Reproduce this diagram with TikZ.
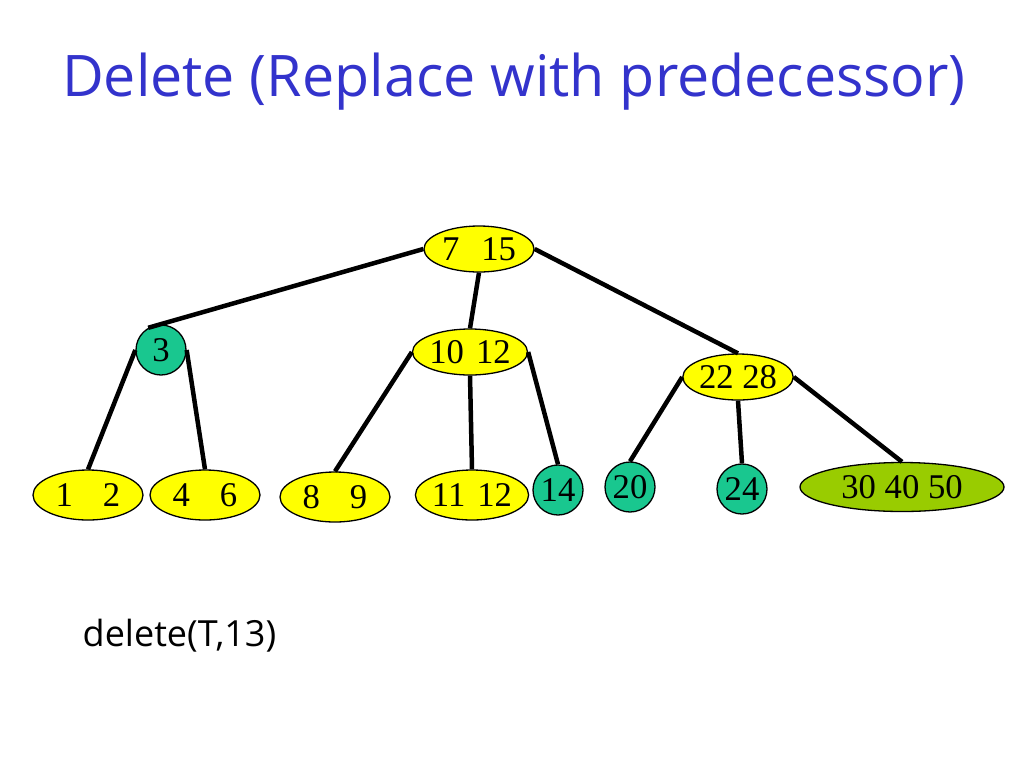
\documentclass[tikz,border=0pt]{standalone}
\usepackage{fontspec}
\setmainfont{Liberation Serif}
\newfontfamily\slidefont{Open Sans}
\usetikzlibrary{shapes.geometric}

\newlength{\du}
\setlength{\du}{0.75pt}

\begin{document}
\begin{tikzpicture}[x=\du,y=-\du,
  keynode/.style={ellipse,draw=black,line width=1.3\du,fill=keyyellow,
    minimum width=110\du,minimum height=46\du,inner sep=0pt,
    font=\fontsize{26pt}{28pt}\selectfont},
  leafnode/.style={keynode,minimum height=50\du},
  onekey/.style={circle,draw=black,line width=1.3\du,fill=keyteal,
    minimum size=50\du,inner sep=0pt,font=\fontsize{26pt}{28pt}\selectfont},
  bignode/.style={keynode,fill=keyolive,minimum width=204\du,minimum height=49\du},
  treeedge/.style={line width=4.5\du,draw=black}]
\definecolor{keyyellow}{rgb}{1.000000, 1.000000, 0.000000}
\definecolor{keyteal}{rgb}{0.100000, 0.780000, 0.560000}
\definecolor{keyolive}{rgb}{0.600000, 0.800000, 0.000000}
\definecolor{titleblue}{rgb}{0.200000, 0.200000, 0.800000}
\useasboundingbox (0,0) rectangle (1024,768);
% title
\node[font=\slidefont\fontsize{43pt}{47pt}\selectfont,text=titleblue] (title) at (514,82) {Delete (Replace with predecessor)};
% inner nodes
\node[keynode] (root) at (479,249) {7\hspace{22\du}15};
\node[onekey] (k3) at (161,350) {3};
\node[keynode] (k1012) at (470,352) {10\hspace{12\du}12};
\node[keynode] (k2228) at (738,377) {22 28};
% leaves
\node[leafnode] (l12) at (88,495) {1\hspace{30\du}2};
\node[leafnode] (l46) at (205,495) {4\hspace{30\du}6};
\node[leafnode] (l89) at (335,497) {8\hspace{30\du}9};
\node[leafnode] (l1112) at (472,495) {11\hspace{12\du}12};
\node[onekey] (l14) at (558,490) {14};
\node[onekey] (l20) at (630,487) {20};
\node[onekey] (l24) at (742,489) {24};
\node[bignode] (l304050) at (902,487) {30 40 50};
% edges
\draw[treeedge] (root.west) -- (k3.120);
\draw[treeedge] (root.south) -- (k1012.north);
\draw[treeedge] (root.east) -- (k2228.north);
\draw[treeedge] (k3.west) -- (l12.north);
\draw[treeedge] (k3.east) -- (l46.north);
\draw[treeedge] (k1012.west) -- (l89.north);
\draw[treeedge] (k1012.south) -- (l1112.north);
\draw[treeedge] (k1012.east) -- (l14.north);
\draw[treeedge] (k2228.west) -- (l20.north);
\draw[treeedge] (k2228.south) -- (l24.north);
\draw[treeedge] (k2228.east) -- (l304050.north);
% operation
\node[anchor=west,font=\slidefont\fontsize{27pt}{30pt}\selectfont] (op) at (78,636) {delete(T,13)};
\end{tikzpicture}
\end{document}
